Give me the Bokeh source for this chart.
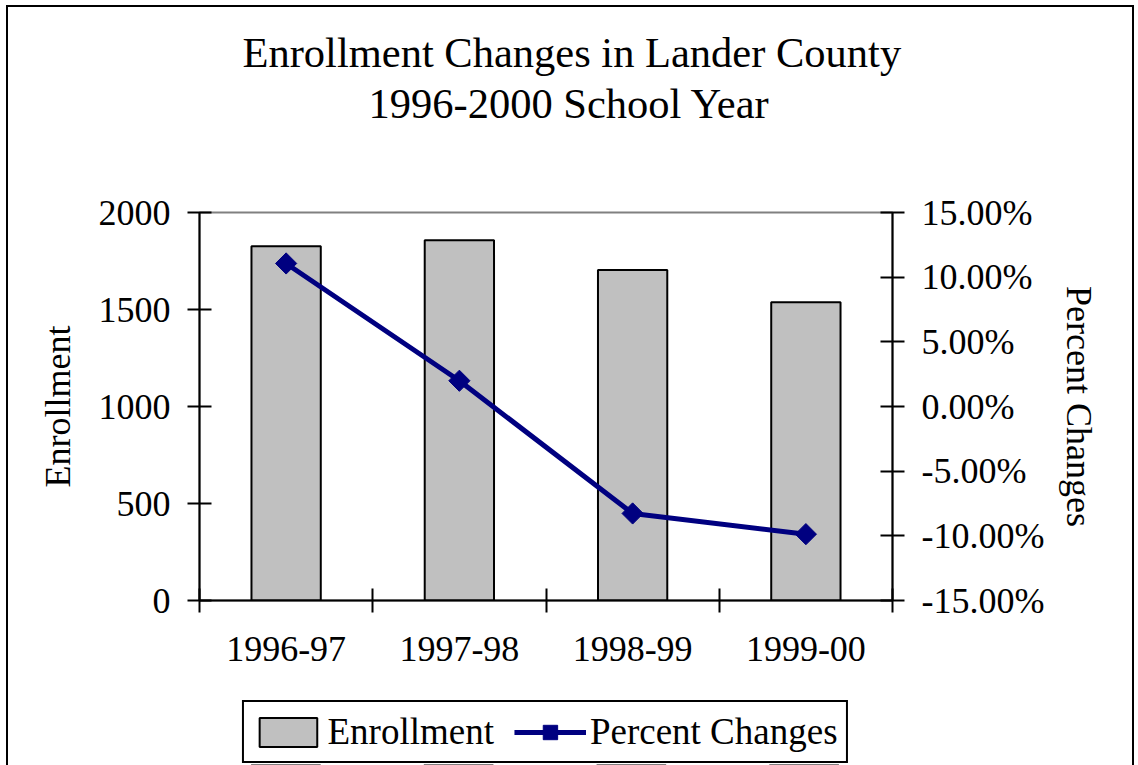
import math
from bokeh.plotting import figure
from bokeh.layouts import column
from bokeh.models import (FactorRange, Range1d, LinearAxis, CategoricalAxis, FixedTicker,
                          NumeralTickFormatter, Legend, LegendItem, Title,
                          GlobalInlineStyleSheet)
from bokeh.embed import file_html
from bokeh.resources import INLINE

# ---- data ----
title_lines = ["Enrollment Changes in Lander County", "1996-2000 School Year"]
school_years = ["1996-97", "1997-98", "1998-99", "1999-00"]
enrollment = [1826, 1857, 1703, 1538]
percent_changes = [0.1106, 0.0199, -0.0827, -0.0987]
enroll_ticks = [0, 500, 1000, 1500, 2000]
pct_ticks = [-0.15, -0.10, -0.05, 0.0, 0.05, 0.10, 0.15]
y_label_left = "Enrollment"
y_label_right = "Percent Changes"

FONT = "Liberation Serif"
NAVY = "#000080"
BAR_FILL = "#C0C0C0"

p = figure(x_range=FactorRange(*school_years, range_padding=0),
           y_range=Range1d(enroll_ticks[0], enroll_ticks[-1]),
           width=1124, height=680,
           min_border_left=191, min_border_right=240, min_border_top=205, min_border_bottom=87,
           x_axis_location=None, y_axis_location=None,
           output_backend="svg", toolbar_location=None)
p.extra_y_ranges = {"pct": Range1d(pct_ticks[0], pct_ticks[-1])}
for g in p.grid:
    g.visible = False
p.outline_line_color = "#808080"
p.outline_line_width = 2
p.background_fill_color = "white"
p.border_fill_color = "white"


def style_axis(ax):
    ax.axis_line_color = "black"
    ax.axis_line_width = 2
    ax.major_tick_line_color = "black"
    ax.major_tick_line_width = 2
    ax.major_tick_in = 12
    ax.major_tick_out = 12
    ax.minor_tick_line_color = None
    ax.major_label_text_font = FONT
    ax.major_label_text_font_size = "36px"
    ax.major_label_text_color = "black"
    ax.axis_label_text_font = FONT
    ax.axis_label_text_font_size = "36px"
    ax.axis_label_text_font_style = "normal"
    ax.axis_label_text_color = "black"


left = LinearAxis(ticker=FixedTicker(ticks=enroll_ticks), axis_label=y_label_left)
style_axis(left)
left.major_label_standoff = 17
left.axis_label_standoff = 18
p.add_layout(left, "left")

right = LinearAxis(y_range_name="pct", ticker=FixedTicker(ticks=pct_ticks),
                   formatter=NumeralTickFormatter(format="0.00%"), axis_label=y_label_right)
style_axis(right)
right.major_label_standoff = 17
right.axis_label_standoff = 12
p.add_layout(right, "right")

# tick marks between categories (category boundaries in the factor range's own coordinates)
bounds_axis = LinearAxis(ticker=FixedTicker(ticks=list(range(len(school_years) + 1))))
style_axis(bounds_axis)
bounds_axis.major_label_text_font_size = "1px"
bounds_axis.major_label_text_color = None
bounds_axis.major_label_standoff = 0
p.add_layout(bounds_axis, "below")

cat_axis = CategoricalAxis()
style_axis(cat_axis)
cat_axis.axis_line_color = None
cat_axis.major_tick_line_color = None
cat_axis.major_tick_in = 0
cat_axis.major_tick_out = 0
cat_axis.major_label_standoff = 24
p.add_layout(cat_axis, "below")

bar_style = dict(fill_color=BAR_FILL, line_color="black", line_width=2)
line_style = dict(line_color=NAVY, line_width=5)
mark_style = dict(marker="square", angle=math.pi / 4, size=15, fill_color=NAVY, line_color=NAVY)

p.vbar(x=school_years, top=enrollment, bottom=0, width=0.4, **bar_style)
p.line(x=school_years, y=percent_changes, y_range_name="pct", **line_style)
p.scatter(x=school_years, y=percent_changes, y_range_name="pct", **mark_style)

# title: an invisible spacer keeps the two title lines high above the plot area
spacer = Title(text=" ", text_font_size="1px", standoff=82)
t2 = Title(text=title_lines[1], align="left", offset=169, standoff=2,
           text_font=FONT, text_font_size="42.5px", text_font_style="normal", text_color="black")
t1 = Title(text=title_lines[0], align="left", offset=43, standoff=2,
           text_font=FONT, text_font_size="42.5px", text_font_style="normal", text_color="black")
p.add_layout(spacer, "above")
p.add_layout(t2, "above")
p.add_layout(t1, "above")

# legend strip below the chart: the same series drawn with the same styles, kept far
# outside its (empty) view, so that the legend keys look like the chart's marks
lf = figure(width=1122, height=78, x_axis_location=None, y_axis_location=None,
            x_range=FactorRange(*school_years), y_range=Range1d(50000, 60000),
            min_border=0, output_backend="svg", toolbar_location=None)
for g in lf.grid:
    g.visible = False
lf.outline_line_color = None
lf.background_fill_color = "white"
lf.border_fill_color = "white"
key_bar = lf.vbar(x=school_years, top=enrollment, bottom=0, width=0.4, **bar_style)
key_line = lf.line(x=school_years, y=percent_changes, **line_style)
key_mark = lf.scatter(x=school_years, y=percent_changes, **mark_style)

legend = Legend(items=[LegendItem(label=y_label_left, renderers=[key_bar]),
                       LegendItem(label=y_label_right, renderers=[key_line, key_mark])],
                location="bottom_center", orientation="horizontal",
                label_text_font=FONT, label_text_font_size="37px", label_text_color="black",
                glyph_width=72, glyph_height=36, label_standoff=4, spacing=20,
                padding=8, margin=2,
                border_line_color="black", border_line_width=2, border_line_alpha=1,
                background_fill_color="white", background_fill_alpha=1)
lf.add_layout(legend)

layout = column(p, lf, spacing=0)
layout.styles = {"margin-left": "6px", "margin-top": "5px",
                 "border-left": "2px solid black", "border-top": "2px solid black",
                 "border-right": "2px solid black"}
layout.stylesheets = [GlobalInlineStyleSheet(css="html, body { overflow: hidden; }")]

open("out.html", "w").write(file_html(layout, INLINE))
